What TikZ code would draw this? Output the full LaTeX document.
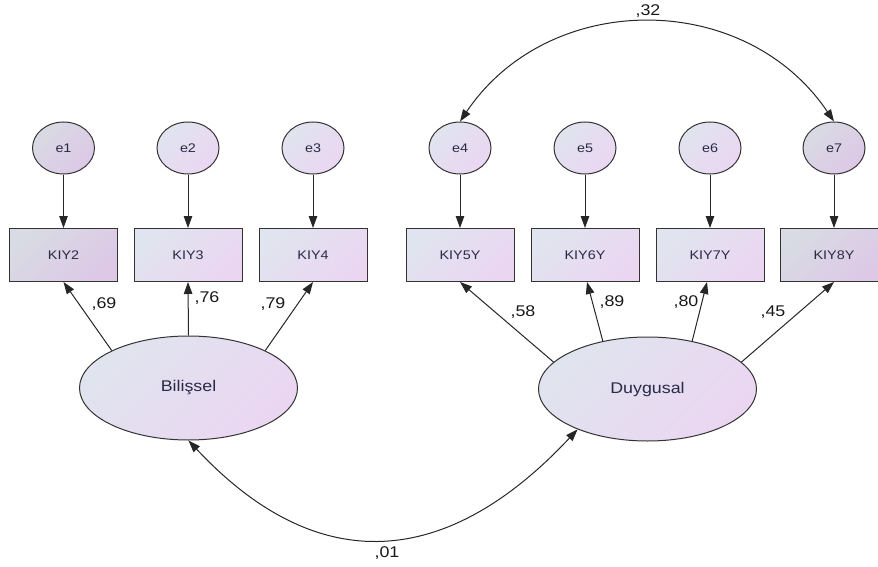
\documentclass[tikz,border=0pt]{standalone}
\usepackage{fontspec}
\setmainfont{Liberation Sans}
\newfontfamily\amos[FakeStretch=1.15]{Liberation Sans}
\usetikzlibrary{arrows.meta,shapes.geometric}
\definecolor{fillA}{HTML}{E0E4EE}
\definecolor{fillB}{HTML}{EBD6F2}
\definecolor{darkA}{HTML}{D8DBE3}
\definecolor{darkB}{HTML}{DDC8E6}
\definecolor{txt}{HTML}{2A2A46}
\definecolor{edge}{HTML}{333333}
\begin{document}
\begin{tikzpicture}[x=1pt,y=-1pt,
  grad/.style={shade, shading=axis, left color=fillA, right color=fillB, shading angle=45},
  dgrad/.style={shade, shading=axis, left color=darkA, right color=darkB, shading angle=45},
  errvar/.style={ellipse, draw=edge, line width=1pt, minimum width=62pt, minimum height=52pt, inner sep=0pt, font=\amos\fontsize{12.5}{14}\selectfont, text=txt},
  obs/.style={rectangle, draw=edge, line width=1pt, minimum width=108pt, minimum height=53pt, inner sep=0pt, font=\amos\fontsize{12.5}{14}\selectfont, text=txt},
  latent/.style={ellipse, draw=edge, line width=1pt, minimum width=218pt, minimum height=104pt, inner sep=0pt, font=\amos\fontsize{15.5}{18}\selectfont, text=txt},
  path/.style={draw=black!85, line width=1pt, -{Triangle[length=12pt,width=8.5pt]}},
  cov/.style={draw=black!85, line width=1pt, {Triangle[length=12pt,width=8.5pt]}-{Triangle[length=12pt,width=8.5pt]}},
  coef/.style={font=\amos\fontsize{15.5}{18}\selectfont, text=black!90, inner sep=0pt}
]
\useasboundingbox (0,0) rectangle (878,567);

% error variables
\node[errvar, dgrad] (e1) at (63.5,148) {e1};
\node[errvar, grad] (e2) at (188,148) {e2};
\node[errvar, grad] (e3) at (313,148) {e3};
\node[errvar, grad] (e4) at (460,148) {e4};
\node[errvar, grad] (e5) at (585,148) {e5};
\node[errvar, grad] (e6) at (710,148) {e6};
\node[errvar, dgrad] (e7) at (834,148) {e7};

% observed variables
\node[obs, dgrad] (k2) at (63.5,255) {KIY2};
\node[obs, grad] (k3) at (188,255) {KIY3};
\node[obs, grad] (k4) at (313,255) {KIY4};
\node[obs, grad] (k5) at (460,255) {KIY5Y};
\node[obs, grad] (k6) at (585,255) {KIY6Y};
\node[obs, grad] (k7) at (710,255) {KIY7Y};
\node[obs, dgrad] (k8) at (834,255) {KIY8Y};

% latent variables
\node[latent, grad] (bil) at (188.5,388) {Bilişsel};
\node[latent, grad] (duy) at (647.5,389) {Duygusal};

% error paths
\draw[path] (e1.south) -- (k2.north);
\draw[path] (e2.south) -- (k3.north);
\draw[path] (e3.south) -- (k4.north);
\draw[path] (e4.south) -- (k5.north);
\draw[path] (e5.south) -- (k6.north);
\draw[path] (e6.south) -- (k7.north);
\draw[path] (e7.south) -- (k8.north);

% loadings
\draw[path] (bil.154) -- (k2.south);
\draw[path] (bil.north) -- (k3.south);
\draw[path] (bil.26) -- (k4.south);
\draw[path] (duy.164) -- (k5.south);
\draw[path] (duy.133) -- ([xshift=2pt]k6.south);
\draw[path] (duy.47) -- ([xshift=-3pt]k7.south);
\draw[path] (duy.16) -- (k8.south);

\node[coef] (l69) at (104,304) {,69};
\node[coef] (l76) at (207,298) {,76};
\node[coef] (l79) at (273,304) {,79};
\node[coef] (l58) at (523,312) {,58};
\node[coef] (l89) at (612,302) {,89};
\node[coef] (l80) at (686,302) {,80};
\node[coef] (l45) at (773,312) {,45};

% covariances
\draw[cov] (e4.north) .. controls +(89,-132) and +(-89,-132) .. (e7.north);
\node[coef] (l32) at (648,11) {,32};
\draw[cov] (bil.south) .. controls +(130,139) and +(-130,139) .. (duy.210);
\node[coef] (l01) at (387,553) {,01};
\end{tikzpicture}
\end{document}
